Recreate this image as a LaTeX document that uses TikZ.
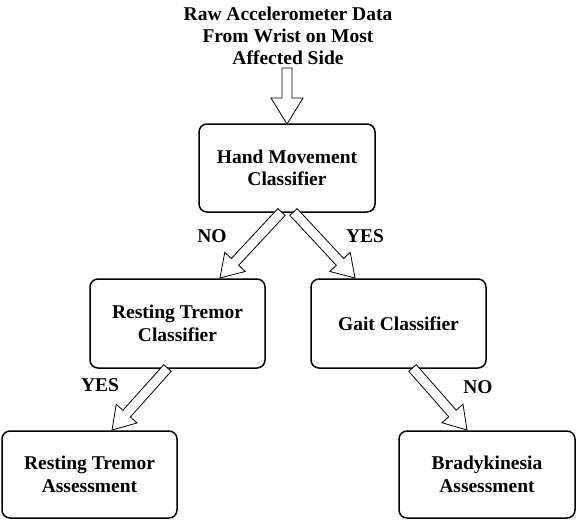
\documentclass[tikz,border=0pt]{standalone}
\usepackage{fontspec}
\setmainfont{Liberation Serif}
\usetikzlibrary{calc}
\newcommand{\blockarrow}[5]{%
  \coordinate (ba-h) at ($(#2)!#5!(#1)$);
  \draw[blockarrowstyle] ($(#1)!#3!90:(#2)$) -- ($(ba-h)!#3!-90:(#1)$) -- ($(ba-h)!#4!-90:(#1)$) -- (#2) -- ($(ba-h)!#4!90:(#1)$) -- ($(ba-h)!#3!90:(#1)$) -- ($(#1)!#3!-90:(#2)$) -- cycle;}
\begin{document}
\begin{tikzpicture}[x=1pt,y=-1pt,
  box/.style={draw, line width=1.5pt, rounded corners=8pt, fill=white, inner sep=0pt, align=center, font=\fontsize{19.5}{22.5}\selectfont\bfseries},
  lbl/.style={font=\fontsize{19.5}{22}\selectfont\bfseries, inner sep=0pt},
  blockarrowstyle/.style={draw, line width=0.8pt, fill=white, line join=miter}]
\useasboundingbox (0,0) rectangle (576,520);
\node[lbl, align=center] (input) at (288,36) {Raw Accelerometer Data\\From Wrist on Most\\Affected Side};
\node[box, minimum width=176pt, minimum height=88pt] (hand) at (287,168) {Hand Movement\\Classifier};
\node[box, minimum width=175pt, minimum height=89pt] (rtc) at (177.5,323.5) {Resting Tremor\\Classifier};
\node[box, minimum width=175pt, minimum height=89pt] (gait) at (398.5,323.5) {Gait Classifier};
\node[box, minimum width=175pt, minimum height=87pt] (rta) at (89.5,474.5) {Resting Tremor\\Assessment};
\node[box, minimum width=176pt, minimum height=87pt] (brady) at (487,474.5) {Bradykinesia\\Assessment};
% arrow anchor points
\coordinate (a0s) at (287,68);
\coordinate (a0t) at (287,124);
\coordinate (a1s) at (281.5,212);
\coordinate (a1t) at (220,278);
\coordinate (a2s) at (293.5,212);
\coordinate (a2t) at (355,278);
\coordinate (a3s) at (167.5,368);
\coordinate (a3t) at (112,430);
\coordinate (a4s) at (412.5,368);
\coordinate (a4t) at (467,430);
\blockarrow{a0s}{a0t}{5pt}{16pt}{26pt}
\blockarrow{a1s}{a1t}{5pt}{14pt}{22pt}
\blockarrow{a2s}{a2t}{5pt}{14pt}{22pt}
\blockarrow{a3s}{a3t}{5pt}{14pt}{22pt}
\blockarrow{a4s}{a4t}{5pt}{14pt}{22pt}
\node[lbl] (no1) at (212,236) {NO};
\node[lbl] (yes1) at (365,236) {YES};
\node[lbl] (yes2) at (100,385) {YES};
\node[lbl] (no2) at (478,387) {NO};
\end{tikzpicture}
\end{document}
